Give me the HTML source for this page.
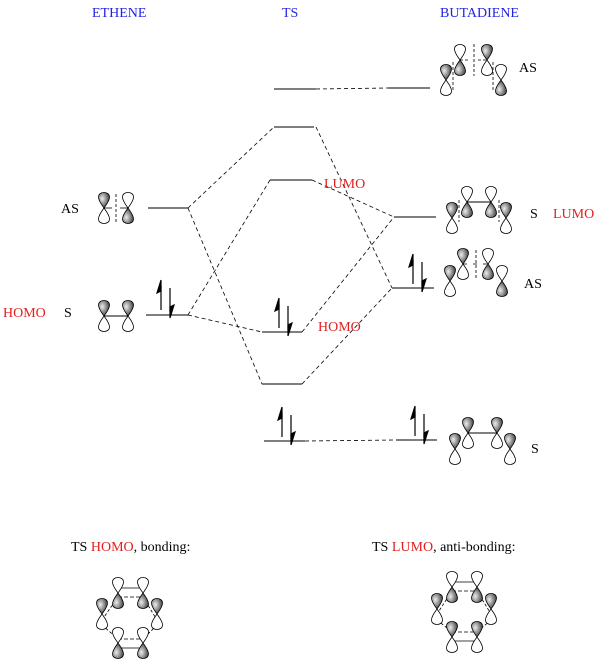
<!DOCTYPE html>
<html><head><meta charset="utf-8"><style>
html,body{margin:0;padding:0;background:#fff;}
svg{display:block;}
text{font-family:"Liberation Serif",serif;font-size:14px;}
</style></head><body>
<svg width="605" height="670" viewBox="0 0 605 670" xmlns="http://www.w3.org/2000/svg">
<defs>
<radialGradient id="g" cx="0.35" cy="0.4" r="0.7"><stop offset="0" stop-color="#eee"/><stop offset="1" stop-color="#333"/></radialGradient>
<path id="lobe" d="M0,0 C-2,-3 -5.5,-7 -5.5,-11 C-5.5,-17 5.5,-17 5.5,-11 C5.5,-7 2,-3 0,0 Z"/>
<g id="pu"><use href="#lobe" fill="url(#g)" stroke="#000" stroke-width="0.8"/><use href="#lobe" transform="scale(1,-1)" fill="#fff" stroke="#000" stroke-width="0.8"/></g>
<g id="pd"><use href="#lobe" fill="#fff" stroke="#000" stroke-width="0.8"/><use href="#lobe" transform="scale(1,-1)" fill="url(#g)" stroke="#000" stroke-width="0.8"/></g>
</defs>
<text x="92" y="17" fill="#2323e6">ETHENE</text>
<text x="282" y="17" fill="#2323e6">TS</text>
<text x="440" y="17" fill="#2323e6">BUTADIENE</text>
<g stroke="#333" stroke-width="1.3">
<line x1="148" y1="208" x2="188" y2="208"/>
<line x1="146" y1="315" x2="188" y2="315"/>
<line x1="274" y1="89" x2="316" y2="89"/>
<line x1="274" y1="127" x2="314" y2="127"/>
<line x1="270" y1="180" x2="312" y2="180"/>
<line x1="262" y1="332" x2="302" y2="332"/>
<line x1="262" y1="384" x2="302" y2="384"/>
<line x1="264" y1="441" x2="305" y2="441"/>
<line x1="388" y1="88" x2="430" y2="88"/>
<line x1="394" y1="217" x2="436" y2="217"/>
<line x1="392" y1="288" x2="434" y2="288"/>
<line x1="396" y1="440" x2="437" y2="440"/>
</g>
<g stroke="#000" stroke-width="0.8" stroke-dasharray="4,3" fill="none">
<line x1="316" y1="89" x2="388" y2="88"/>
<line x1="305" y1="441" x2="396" y2="440"/>
<line x1="188" y1="208" x2="274" y2="127"/>
<line x1="188" y1="208" x2="262" y2="384"/>
<line x1="316" y1="127" x2="392" y2="288"/>
<line x1="302" y1="384" x2="392" y2="288"/>
<line x1="188" y1="315" x2="270" y2="180"/>
<line x1="188" y1="315" x2="262" y2="332"/>
<line x1="312" y1="180" x2="394" y2="217"/>
<line x1="302" y1="332" x2="394" y2="217"/>
</g>
<g stroke="#000" stroke-width="1.2">
<line x1="161" y1="310" x2="161" y2="286"/><path d="M161,280 L157,293 L161,291 Z"/>
<line x1="170" y1="288" x2="170" y2="312"/><path d="M170,318 L174,305 L170,307 Z"/>
<line x1="279" y1="328" x2="279" y2="304"/><path d="M279,298 L275,311 L279,309 Z"/>
<line x1="288" y1="306" x2="288" y2="330"/><path d="M288,336 L292,323 L288,325 Z"/>
<line x1="282" y1="437" x2="282" y2="413"/><path d="M282,407 L278,420 L282,418 Z"/>
<line x1="291" y1="415" x2="291" y2="439"/><path d="M291,445 L295,432 L291,434 Z"/>
<line x1="413" y1="284" x2="413" y2="260"/><path d="M413,254 L409,267 L413,265 Z"/>
<line x1="422" y1="262" x2="422" y2="286"/><path d="M422,292 L426,279 L422,281 Z"/>
<line x1="415" y1="436" x2="415" y2="412"/><path d="M415,406 L411,419 L415,417 Z"/>
<line x1="424" y1="414" x2="424" y2="438"/><path d="M424,444 L428,431 L424,433 Z"/>
</g>
<text x="61" y="213">AS</text>
<text x="64" y="317">S</text>
<text x="3" y="317" fill="#e02020">HOMO</text>
<text x="324" y="188" fill="#e02020">LUMO</text>
<text x="318" y="331" fill="#e02020">HOMO</text>
<text x="519" y="72">AS</text>
<text x="530" y="218">S</text>
<text x="553" y="218" fill="#e02020">LUMO</text>
<text x="524" y="288">AS</text>
<text x="531" y="453">S</text>
<text x="71" y="551">TS <tspan fill="#e02020">HOMO</tspan>, bonding:</text>
<text x="372" y="551">TS <tspan fill="#e02020">LUMO</tspan>, anti-bonding:</text>
<use href="#pu" x="104" y="208"/><use href="#pd" x="128" y="208"/>
<line x1="116" y1="194" x2="116" y2="222" stroke="#000" stroke-dasharray="3,2" stroke-width="0.8"/>
<line x1="104" y1="208" x2="112" y2="208" stroke="#000" stroke-width="0.8"/><line x1="120" y1="208" x2="128" y2="208" stroke="#000" stroke-width="0.8"/>
<use href="#pu" x="104" y="316"/><use href="#pu" x="128" y="316"/>
<line x1="104" y1="316" x2="128" y2="316" stroke="#000" stroke-width="1"/>
<g stroke="#000" stroke-width="0.8" stroke-dasharray="3,2" fill="none">
<line x1="453" y1="62" x2="453" y2="92"/><line x1="474" y1="44" x2="474" y2="76"/><line x1="493" y1="62" x2="493" y2="92"/>
<line x1="460" y1="60" x2="470" y2="60"/><line x1="478" y1="60" x2="487" y2="60"/>
</g>
<use href="#pu" x="446" y="80"/><use href="#pd" x="460" y="60"/><use href="#pu" x="487" y="60"/><use href="#pd" x="501" y="80"/>
<line x1="467" y1="202" x2="491" y2="202" stroke="#000"/>
<line x1="459" y1="200" x2="459" y2="222" stroke="#000" stroke-width="0.8" stroke-dasharray="3,2"/>
<line x1="499" y1="200" x2="499" y2="222" stroke="#000" stroke-width="0.8" stroke-dasharray="3,2"/>
<use href="#pd" x="467" y="202"/><use href="#pd" x="491" y="202"/><use href="#pu" x="452" y="218"/><use href="#pu" x="506" y="218"/>
<line x1="476" y1="250" x2="476" y2="278" stroke="#000" stroke-width="0.8" stroke-dasharray="3,2"/>
<line x1="463" y1="264" x2="488" y2="264" stroke="#000" stroke-width="0.8" stroke-dasharray="4,6"/>
<use href="#pu" x="463" y="264"/><use href="#pd" x="488" y="264"/><use href="#pu" x="450" y="281"/><use href="#pd" x="502" y="281"/>
<line x1="468" y1="433" x2="497" y2="433" stroke="#000"/>
<use href="#pu" x="468" y="433"/><use href="#pu" x="497" y="433"/><use href="#pu" x="455" y="449"/><use href="#pu" x="510" y="449"/>
<g stroke="#000" stroke-width="0.8" fill="none">
<line x1="118" y1="588" x2="143" y2="588"/><line x1="118" y1="597" x2="143" y2="597" stroke-dasharray="4,2"/>
<line x1="118" y1="639" x2="143" y2="639" stroke-dasharray="4,2"/><line x1="118" y1="648" x2="143" y2="648"/>
<line x1="118" y1="597" x2="102" y2="620" stroke-dasharray="3,2"/><line x1="143" y1="597" x2="157" y2="620" stroke-dasharray="3,2"/>
<line x1="102" y1="625" x2="118" y2="639" stroke-dasharray="3,2"/><line x1="157" y1="625" x2="143" y2="639" stroke-dasharray="3,2"/>
</g>
<use href="#pd" x="118" y="593"/><use href="#pd" x="143" y="593"/>
<use href="#pu" x="102" y="614"/><use href="#pu" x="157" y="614"/>
<use href="#pd" x="118" y="643"/><use href="#pd" x="143" y="643"/>
<g stroke="#000" stroke-width="0.8" fill="none">
<line x1="452" y1="582" x2="477" y2="582"/><line x1="452" y1="591" x2="477" y2="591" stroke-dasharray="4,2"/>
<line x1="452" y1="632" x2="477" y2="632" stroke-dasharray="4,2"/><line x1="452" y1="641" x2="477" y2="641"/>
<line x1="452" y1="591" x2="437" y2="614" stroke-dasharray="3,2"/><line x1="477" y1="591" x2="491" y2="614" stroke-dasharray="3,2"/>
<line x1="437" y1="620" x2="452" y2="632" stroke-dasharray="3,2"/><line x1="491" y1="620" x2="477" y2="632" stroke-dasharray="3,2"/>
</g>
<use href="#pd" x="452" y="587"/><use href="#pd" x="477" y="587"/>
<use href="#pu" x="437" y="609"/><use href="#pu" x="491" y="609"/>
<use href="#pu" x="452" y="637"/><use href="#pu" x="477" y="637"/>
</svg>
</body></html>
